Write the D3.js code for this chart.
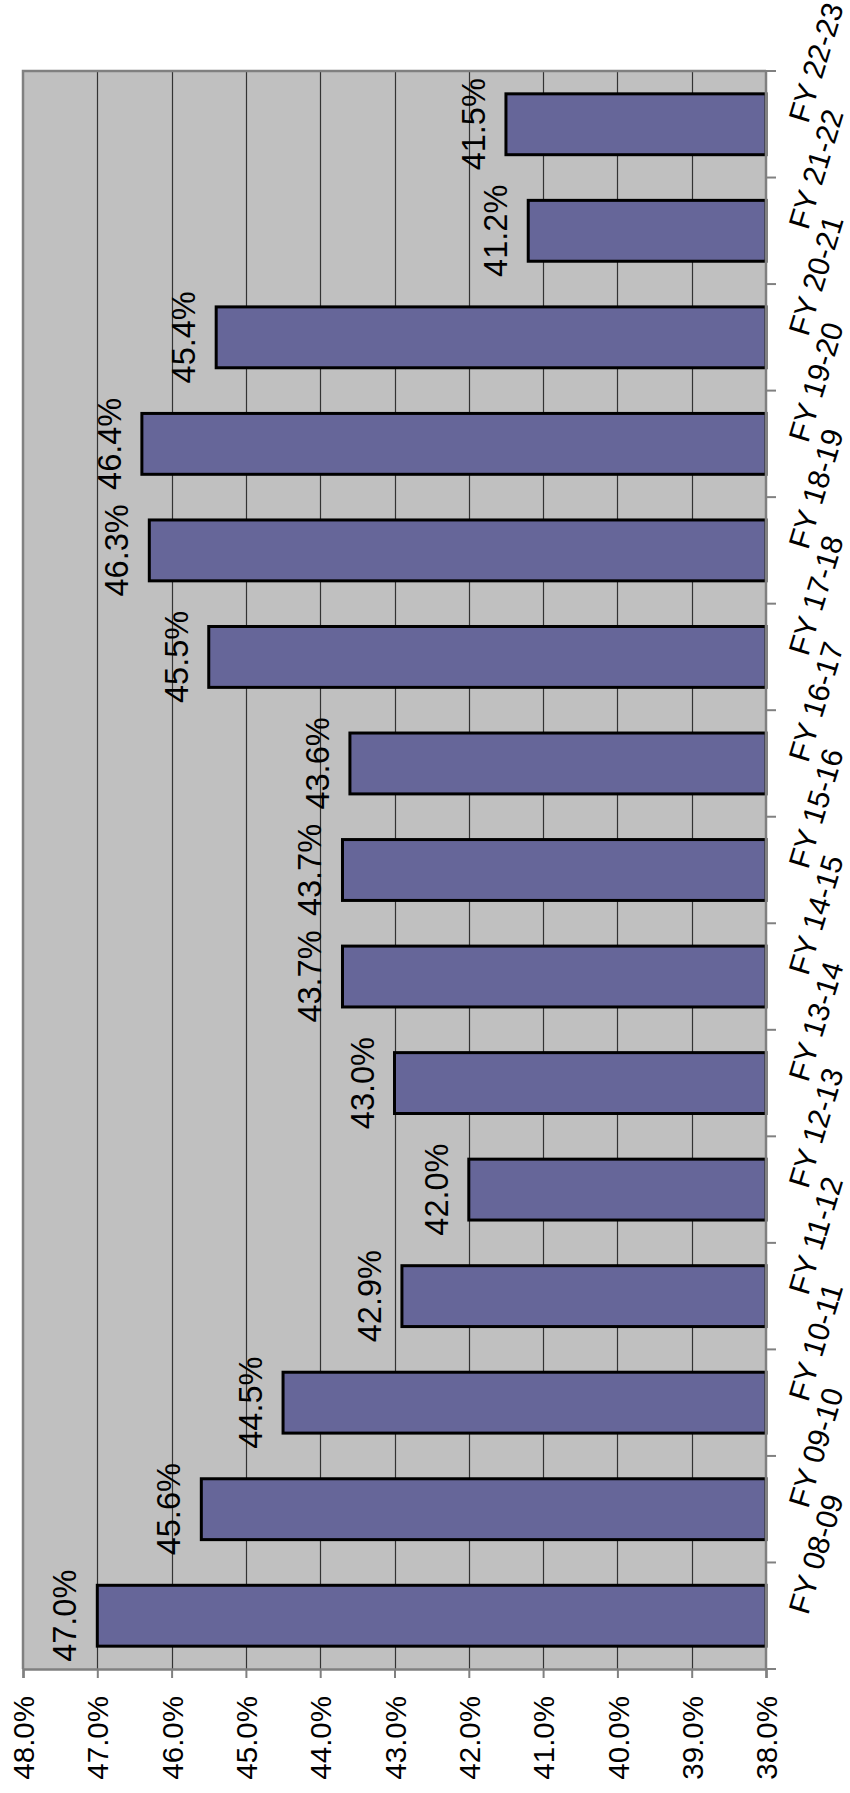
<!DOCTYPE html>
<html>
<head>
<meta charset="utf-8">
<script src="https://cdn.jsdelivr.net/npm/d3@7"></script>
<style>
  html, body { margin: 0; padding: 0; background: #ffffff; }
  svg { display: block; }
  text { font-family: Arial, "Liberation Sans", sans-serif; fill: #000; }
</style>
</head>
<body>
<svg id="chart" width="850" height="1793"></svg>
<script>
// ---- data ----
const categories = ["FY 08-09","FY 09-10","FY 10-11","FY 11-12","FY 12-13","FY 13-14","FY 14-15",
                    "FY 15-16","FY 16-17","FY 17-18","FY 18-19","FY 19-20","FY 20-21","FY 21-22","FY 22-23"];
const values = [47.0, 45.6, 44.5, 42.9, 42.0, 43.0, 43.7, 43.7, 43.6, 45.5, 46.3, 46.4, 45.4, 41.2, 41.5];
const valueTicks = [38, 39, 40, 41, 42, 43, 44, 45, 46, 47, 48];
const valueDomain = [38, 48];

// ---- layout ----
const plot = { left: 23, right: 766, top: 71, bottom: 1669 };

const svg = d3.select("#chart");

// value scale: 38% at right, 48% at left
const x = d3.scaleLinear().domain(valueDomain).range([plot.right, plot.left]);
// category scale: first category at the bottom
const y = d3.scaleBand()
  .domain(categories)
  .range([plot.bottom, plot.top])
  .paddingInner(0.4286)
  .paddingOuter(0.2143);

// plot background
svg.append("rect")
  .attr("x", plot.left).attr("y", plot.top)
  .attr("width", plot.right - plot.left).attr("height", plot.bottom - plot.top)
  .attr("fill", "#c0c0c0");

// gridlines
svg.append("g")
  .selectAll("line")
  .data(valueTicks.filter(t => t !== valueDomain[0] && t !== valueDomain[1]))
  .join("line")
  .attr("x1", d => Math.round(x(d)) + 0.5).attr("x2", d => Math.round(x(d)) + 0.5)
  .attr("y1", plot.top).attr("y2", plot.bottom)
  .attr("stroke", "#333333").attr("stroke-width", 1.2);

// plot border (left & top sides gray)
svg.append("path")
  .attr("d", `M${plot.left},${plot.bottom} V${plot.top} H${plot.right}`)
  .attr("fill", "none").attr("stroke", "#808080").attr("stroke-width", 2.5);

// bars
svg.append("g")
  .selectAll("rect")
  .data(values)
  .join("rect")
  .attr("x", d => x(d))
  .attr("y", (d, i) => y(categories[i]))
  .attr("width", d => x(valueDomain[0]) - x(d))
  .attr("height", y.bandwidth())
  .attr("fill", "#666699")
  .attr("stroke", "#000").attr("stroke-width", 3);

// value axis (bottom)
const xAxis = d3.axisBottom(x)
  .tickValues(valueTicks)
  .tickSize(9)
  .tickFormat(d => d.toFixed(1) + "%");
const gx = svg.append("g")
  .attr("transform", `translate(0,${plot.bottom})`)
  .call(xAxis);
gx.select(".domain").attr("stroke", "#808080").attr("stroke-width", 2.5);
gx.selectAll(".tick line").attr("stroke", "#808080").attr("stroke-width", 2);
gx.selectAll(".tick text")
  .attr("font-size", 29.5)
  .attr("fill", "#000")
  .attr("text-anchor", "end")
  .attr("transform", "rotate(-90)")
  .attr("x", -27)
  .attr("y", 0)
  .attr("dy", "0.36em");

// category axis (right)
const gy = svg.append("g").attr("transform", `translate(${plot.right},0)`);
gy.append("line")
  .attr("x1", 0).attr("x2", 0).attr("y1", plot.top).attr("y2", plot.bottom)
  .attr("stroke", "#808080").attr("stroke-width", 2.5);
const boundaries = categories.map(c => y(c) - y.step() * y.paddingInner() / 2)
  .concat([plot.bottom]);
gy.selectAll("line.tk")
  .data(boundaries)
  .join("line").attr("class", "tk")
  .attr("x1", 0).attr("x2", 10)
  .attr("y1", d => d).attr("y2", d => d)
  .attr("stroke", "#808080").attr("stroke-width", 2);
gy.selectAll("text")
  .data(categories)
  .join("text")
  .attr("font-size", 30)
  .attr("text-anchor", "start")
  .attr("transform", d => `translate(42,${y(d) + y.bandwidth() / 2}) rotate(-73)`)
  .text(d => d);

// data labels
svg.append("g")
  .selectAll("text")
  .data(values)
  .join("text")
  .attr("font-size", 32.5)
  .attr("text-anchor", "middle")
  .attr("transform", (d, i) => `translate(${x(d) - 21},${y(categories[i]) + y.bandwidth() / 2}) rotate(-90)`)
  .text(d => d.toFixed(1) + "%");
</script>
</body>
</html>
